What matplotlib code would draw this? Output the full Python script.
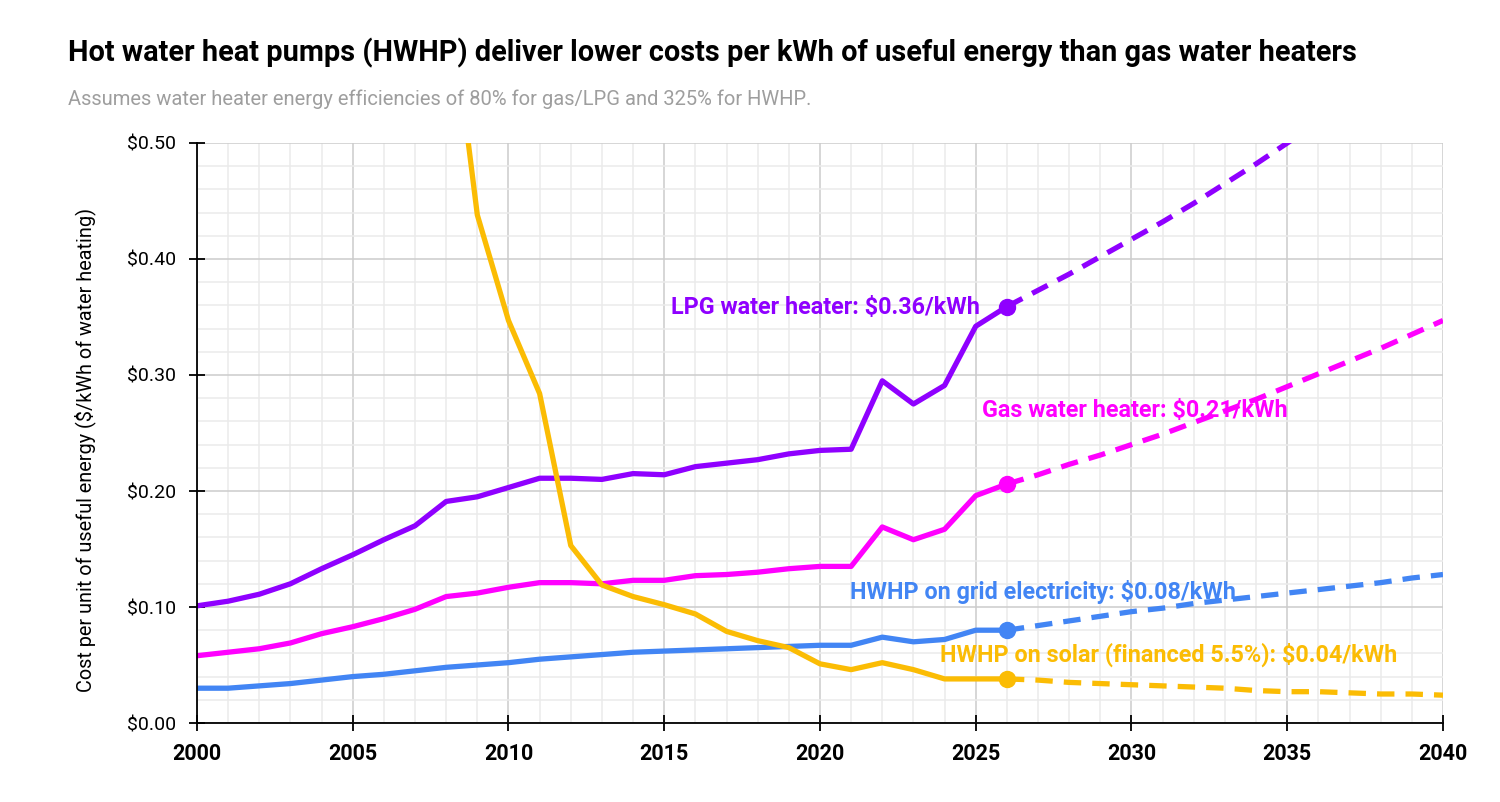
import matplotlib.pyplot as plt
import numpy as np
from matplotlib.ticker import MultipleLocator, FuncFormatter

plt.rcParams['font.family'] = ['Roboto', 'DejaVu Sans']

# historical years and values ($/kWh of useful energy)
years = list(range(2000, 2027))
lpg = [0.101, 0.105, 0.111, 0.120, 0.133, 0.145, 0.158, 0.170, 0.191, 0.195,
       0.203, 0.211, 0.211, 0.210, 0.215, 0.214, 0.221, 0.224, 0.227, 0.232,
       0.235, 0.236, 0.295, 0.275, 0.291, 0.342, 0.359]
gas = [0.058, 0.061, 0.064, 0.069, 0.077, 0.083, 0.090, 0.098, 0.109, 0.112,
       0.117, 0.121, 0.121, 0.120, 0.123, 0.123, 0.127, 0.128, 0.130, 0.133,
       0.135, 0.135, 0.169, 0.158, 0.167, 0.196, 0.206]
grid = [0.030, 0.030, 0.032, 0.034, 0.037, 0.040, 0.042, 0.045, 0.048, 0.050,
        0.052, 0.055, 0.057, 0.059, 0.061, 0.062, 0.063, 0.064, 0.065, 0.066,
        0.067, 0.067, 0.074, 0.070, 0.072, 0.080, 0.080]
solar_years = list(range(2008, 2027))
solar = [0.653, 0.438, 0.347, 0.284, 0.153, 0.119, 0.109, 0.102, 0.094, 0.079,
         0.071, 0.065, 0.051, 0.046, 0.052, 0.046, 0.038, 0.038, 0.038]

# projections
proj_years = list(range(2026, 2041))
lpg_proj = [0.359, 0.373, 0.387, 0.402, 0.417, 0.432, 0.448, 0.465, 0.482, 0.500,
            0.518, 0.537, 0.556, 0.576, 0.597]
gas_proj = [0.206, 0.214, 0.223, 0.231, 0.240, 0.249, 0.259, 0.269, 0.279, 0.290,
            0.301, 0.312, 0.323, 0.335, 0.347]
grid_proj = [0.080, 0.084, 0.088, 0.092, 0.096, 0.099, 0.103, 0.106, 0.109, 0.112,
             0.115, 0.118, 0.121, 0.125, 0.128]
solar_proj = [0.038, 0.037, 0.035, 0.034, 0.033, 0.032, 0.031, 0.030, 0.028, 0.027,
              0.027, 0.026, 0.025, 0.025, 0.024]

colors = {'lpg': '#8f00ff', 'gas': '#ff00ff', 'grid': '#4285f4', 'solar': '#fbbc04'}

fig = plt.figure(figsize=(15, 8.02), dpi=100)
ax = fig.add_axes([0.1313, 0.0985, 0.8307, 0.7232])

series = [
    ('lpg', years, lpg, lpg_proj, 'LPG water heater: $0.36/kWh', (2025.14, 0.3586), 'right'),
    ('gas', years, gas, gas_proj, 'Gas water heater: $0.21/kWh', (2025.2, 0.269), 'left'),
    ('grid', years, grid, grid_proj, 'HWHP on grid electricity: $0.08/kWh', (2020.96, 0.113), 'left'),
    ('solar', solar_years, solar, solar_proj, 'HWHP on solar (financed 5.5%): $0.04/kWh', (2023.85, 0.0586), 'left'),
]

for key, xs, ys, proj, label, pos, ha in series:
    c = colors[key]
    ax.plot(proj_years, proj, color=c, lw=3.8, dashes=(3.3, 2.1), zorder=3,
            solid_capstyle='butt', dash_capstyle='butt')
    ax.plot(xs, ys, color=c, lw=3.8, zorder=4)
    ax.plot(xs[-1], ys[-1], 'o', color=c, ms=11.5, zorder=5)
    ax.text(pos[0], pos[1], label, color=c, fontsize=16.8, fontweight='bold',
            ha=ha, va='center', zorder=6)

ax.set_xlim(2000, 2040)
ax.set_ylim(0, 0.5)
ax.xaxis.set_major_locator(MultipleLocator(5))
ax.xaxis.set_minor_locator(MultipleLocator(1))
ax.yaxis.set_major_locator(MultipleLocator(0.1))
ax.yaxis.set_minor_locator(MultipleLocator(0.02))
ax.yaxis.set_major_formatter(FuncFormatter(lambda v, p: f'${v:.2f}'))

ax.grid(which='major', color='#cccccc', lw=1.1, zorder=0)
ax.grid(which='minor', color='#ebebeb', lw=1.1, zorder=0)
ax.set_axisbelow(True)

for s in ['top', 'right']:
    ax.spines[s].set_visible(False)
for s in ['left', 'bottom']:
    ax.spines[s].set_linewidth(1.3)
    ax.spines[s].set_zorder(7)

ax.tick_params(which='major', direction='inout', length=11, width=1.3, labelsize=14)
ax.tick_params(which='minor', length=0)
ax.tick_params(axis='x', pad=9, labelsize=15.5)
ax.tick_params(axis='y', pad=9.5)
for t in ax.get_xticklabels():
    t.set_fontweight('bold')

ax.set_ylabel('Cost per unit of useful energy ($/kWh of water heating)', fontsize=14.3)
ax.yaxis.set_label_coords(-0.081, 0.47)

fig.text(0.0453, 0.934, 'Hot water heat pumps (HWHP) deliver lower costs per kWh of useful energy than gas water heaters',
         fontsize=20.8, fontweight='bold', ha='left', va='center')
fig.text(0.0453, 0.876, 'Assumes water heater energy efficiencies of 80% for gas/LPG and 325% for HWHP.',
         fontsize=14.5, color='#9e9e9e', ha='left', va='center')

fig.savefig('out.png', dpi=100)
